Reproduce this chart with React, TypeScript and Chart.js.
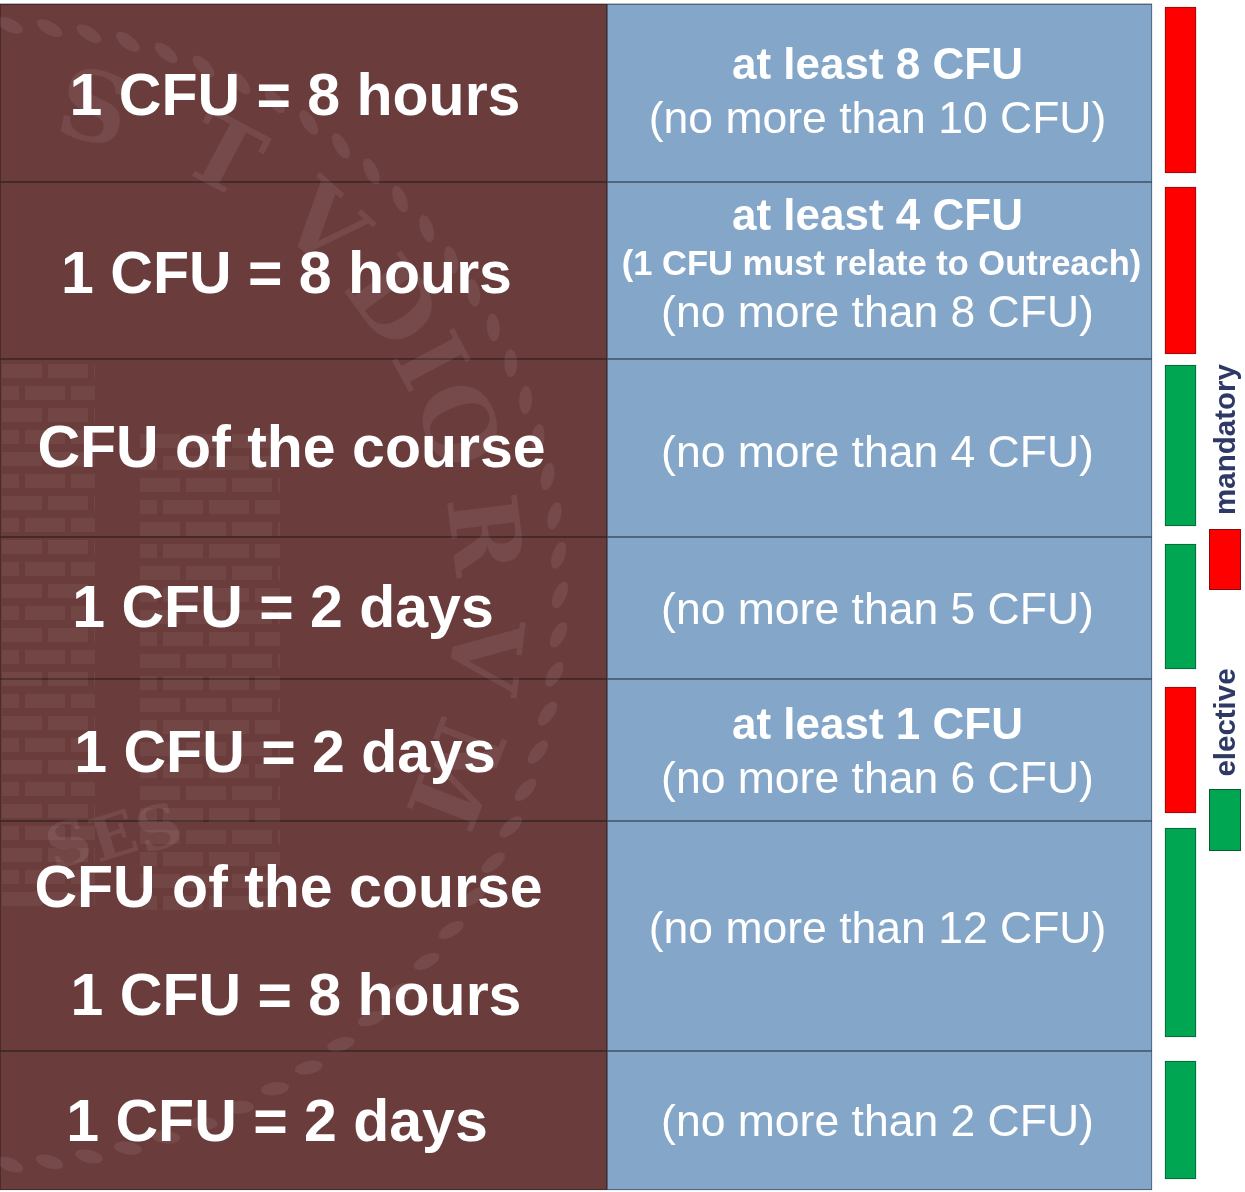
import React, { useEffect, useRef } from "react";
import { Chart, registerables } from "chart.js";

Chart.register(...registerables);

// ---------- data ----------
// vertical extent of each requirement row (value units of the y scale)
const rowEdges = [4, 182, 359, 537, 679, 821, 1051, 1190];
// left column: how credits are counted
const unitLabels: string[][] = [
  ["1 CFU = 8 hours"],
  ["1 CFU = 8 hours"],
  ["CFU of the course"],
  ["1 CFU = 2 days"],
  ["1 CFU = 2 days"],
  ["CFU of the course", "1 CFU = 8 hours"],
  ["1 CFU = 2 days"],
];
// right column: credit rules
const creditRules: string[][] = [
  ["at least 8 CFU", "(no more than 10 CFU)"],
  ["at least 4 CFU", "(1 CFU must relate to Outreach)", "(no more than 8 CFU)"],
  ["(no more than 4 CFU)"],
  ["(no more than 5 CFU)"],
  ["at least 1 CFU", "(no more than 6 CFU)"],
  ["(no more than 12 CFU)"],
  ["(no more than 2 CFU)"],
];
// requirement of each row
const requirement = ["mandatory", "mandatory", "elective", "elective", "mandatory", "elective", "elective"];
// extent of each requirement marker
const markerRanges: [number, number][] = [
  [7, 173],
  [187, 354],
  [365, 526],
  [544, 669],
  [687, 813],
  [828, 1037],
  [1061, 1179],
];
const legendLabels = ["mandatory", "elective"];

// ---------- layout / style (not data) ----------
const X_MAX = 1245;
const Y_MAX = 1192;
const columnEdges = [0, 607, 1152];
const markerEdges = [1165, 1196];
const FONT = '"Liberation Sans", Arial, Helvetica, sans-serif';
const COLORS = {
  unit: "#6b3c3c",
  unitBorder: "#3b2424",
  rule: "#84a6c9",
  ruleBorder: "#3f5266",
  mandatory: "#ff0000",
  mandatoryBorder: "#8a0a0a",
  elective: "#00a651",
  electiveBorder: "#0a5a32",
  legendText: "#2e3a65",
};
const leftNudgeY = [0.5, 1, -2, -2, 0.5, 3.75, -0.5];
const leftNudgeX = [[-8.5], [-17], [-12], [-20.5], [-18.5], [-15, -7.5], [-26.5]];
const rightNudgeY = [-3, -8, 3, 0, 0, -9, 0];
const rightNudgeX = -2;
const legendLayout = [
  { textX: 1235, textY: 439.5, box: [1209, 529, 1241, 590] },
  { textX: 1235, textY: 722.5, box: [1209, 789, 1241, 851] },
];

function ruleStyle(line: string) {
  if (line.startsWith("at least")) return { weight: "bold", size: 44, dx: 0 };
  if (line.includes("must")) return { weight: "bold", size: 34.5, dx: 4 };
  return { weight: "normal", size: 44.5, dx: 0 };
}

function drawWatermark(ctx: CanvasRenderingContext2D, xs: any, ys: any) {
  const left = xs.getPixelForValue(columnEdges[0]);
  const right = xs.getPixelForValue(columnEdges[1]);
  const top = ys.getPixelForValue(rowEdges[0]);
  const bottom = ys.getPixelForValue(rowEdges[rowEdges.length - 1]);
  ctx.save();
  ctx.beginPath();
  ctx.rect(left, top, right - left, bottom - top);
  ctx.clip();
  ctx.fillStyle = "rgba(255,255,255,0.075)";
  const cx = left - 10;
  const cy = top + 591;
  const R = 570;
  // rope ring
  for (let a = -100; a <= 100; a += 4) {
    const t = (a * Math.PI) / 180;
    ctx.save();
    ctx.translate(cx + R * Math.cos(t), cy + R * Math.sin(t));
    ctx.rotate(t + Math.PI / 2 + 0.4);
    ctx.beginPath();
    ctx.ellipse(0, 0, 14, 6.5, 0, 0, Math.PI * 2);
    ctx.fill();
    ctx.restore();
  }
  // letters
  const letters = ["S", "T", "V", "D", "I", "O", "R", "V", "M"];
  const angles = [-78, -62, -48, -36, -28, -20, -7, 7, 21];
  ctx.font = 'bold 96px "DejaVu Serif", "Liberation Serif", serif';
  ctx.textAlign = "center";
  ctx.textBaseline = "middle";
  letters.forEach((ch, i) => {
    const t = (angles[i] * Math.PI) / 180;
    const r = 490;
    ctx.save();
    ctx.translate(cx + r * Math.cos(t), cy + r * Math.sin(t));
    ctx.rotate(t + Math.PI / 2);
    ctx.fillText(ch, 0, 0);
    ctx.restore();
  });
  // bottom letters
  ctx.font = 'bold 60px "DejaVu Serif", serif';
  ["S", "E", "S"].forEach((ch, i) => {
    ctx.save();
    ctx.translate(left + 70 + i * 45, top + 845 - i * 8);
    ctx.rotate(-0.3);
    ctx.fillText(ch, 0, 0);
    ctx.restore();
  });
  // tower bricks
  ctx.fillStyle = "rgba(255,255,255,0.055)";
  const towers = [
    [left + 2, top + 360, left + 95, top + 910],
    [left + 140, top + 430, left + 280, top + 900],
  ];
  towers.forEach(([x0, y0, x1, y1]) => {
    let row = 0;
    for (let yy = y0; yy < y1; yy += 22, row++) {
      const off = row % 2 ? 23 : 0;
      for (let xx = x0 - off; xx < x1; xx += 46) {
        const a = Math.max(xx, x0);
        const b = Math.min(xx + 40, x1);
        if (b > a) ctx.fillRect(a, yy, b - a, 14);
      }
    }
  });
  ctx.restore();
}

const tablePlugin = {
  id: "tableText",
  beforeDatasetsDraw(chart: any) {
    const { ctx, scales } = chart;
    const xs = scales.x;
    const ys = scales.y;
    ctx.save();
    ctx.strokeStyle = "#c4c4c4";
    ctx.lineWidth = 1;
    ctx.beginPath();
    const yTop = ys.getPixelForValue(rowEdges[0]) - 0.5;
    ctx.moveTo(xs.getPixelForValue(columnEdges[0]), yTop);
    ctx.lineTo(xs.getPixelForValue(columnEdges[2]), yTop);
    ctx.stroke();
    ctx.restore();
  },
  afterDatasetsDraw(chart: any) {
    const { ctx, scales } = chart;
    const xs = scales.x;
    const ys = scales.y;
    drawWatermark(ctx, xs, ys);

    ctx.save();
    ctx.fillStyle = "#ffffff";
    ctx.textAlign = "center";
    ctx.textBaseline = "alphabetic";
    const leftCx = xs.getPixelForValue((columnEdges[0] + columnEdges[1]) / 2);
    const rightCx = xs.getPixelForValue((columnEdges[1] + columnEdges[2]) / 2) + rightNudgeX;

    for (let i = 0; i < rowEdges.length - 1; i++) {
      const yc = (ys.getPixelForValue(rowEdges[i]) + ys.getPixelForValue(rowEdges[i + 1])) / 2;
      // left column
      const lines = unitLabels[i];
      const size = 59;
      const gap = 107.5;
      ctx.font = `bold ${size}px ${FONT}`;
      lines.forEach((ln, k) => {
        const capC = yc + leftNudgeY[i] + (k - (lines.length - 1) / 2) * gap;
        const nx = leftNudgeX[i][k] ?? leftNudgeX[i][0];
        ctx.fillText(ln, leftCx + nx, capC + 0.358 * size);
      });
      // right column
      const rl = creditRules[i];
      const styles = rl.map(ruleStyle);
      const offs: number[] = [0];
      for (let k = 1; k < rl.length; k++) {
        offs.push(offs[k - 1] + 1.23 * ((styles[k - 1].size + styles[k].size) / 2));
      }
      const mid = (offs[0] + offs[offs.length - 1]) / 2;
      rl.forEach((ln, k) => {
        const st = styles[k];
        ctx.font = `${st.weight} ${st.size}px ${FONT}`;
        const capC = yc + rightNudgeY[i] + offs[k] - mid;
        ctx.fillText(ln, rightCx + st.dx, capC + 0.358 * st.size);
      });
    }
    ctx.restore();

    // legend
    ctx.save();
    legendLabels.forEach((lab, i) => {
      const L = legendLayout[i];
      const [x0, y0, x1, y1] = L.box;
      ctx.fillStyle = lab === "mandatory" ? COLORS.mandatory : COLORS.elective;
      ctx.fillRect(x0, y0, x1 - x0, y1 - y0);
      ctx.strokeStyle = lab === "mandatory" ? COLORS.mandatoryBorder : COLORS.electiveBorder;
      ctx.lineWidth = 1;
      ctx.strokeRect(x0 + 0.5, y0 + 0.5, x1 - x0 - 1, y1 - y0 - 1);
      ctx.save();
      ctx.translate(L.textX, L.textY);
      ctx.rotate(-Math.PI / 2);
      ctx.fillStyle = COLORS.legendText;
      ctx.font = `bold 29.5px ${FONT}`;
      ctx.textAlign = "center";
      ctx.textBaseline = "alphabetic";
      ctx.fillText(lab, 0, 0);
      ctx.restore();
    });
    ctx.restore();
  },
};

export default function App() {
  const ref = useRef<HTMLCanvasElement | null>(null);
  useEffect(() => {
    document.body.style.margin = "0";
    const canvas = ref.current;
    if (!canvas) return;
    const rows = rowEdges.slice(0, -1).map((t, i) => [t, rowEdges[i + 1]]);
    const chart = new Chart(canvas, {
      type: "bar",
      data: {
        datasets: [
          {
            label: "Counting unit",
            data: rows.map((r) => ({ x: (columnEdges[0] + columnEdges[1]) / 2, y: r })),
            backgroundColor: COLORS.unit,
            borderColor: COLORS.unitBorder,
            borderWidth: 1,
            borderSkipped: false,
            barThickness: columnEdges[1] - columnEdges[0],
            grouped: false,
          } as any,
          {
            label: "Credit rule",
            data: rows.map((r) => ({ x: (columnEdges[1] + columnEdges[2]) / 2, y: r })),
            backgroundColor: COLORS.rule,
            borderColor: COLORS.ruleBorder,
            borderWidth: 1,
            borderSkipped: false,
            barThickness: columnEdges[2] - columnEdges[1],
            grouped: false,
          } as any,
          {
            label: "Requirement",
            data: markerRanges.map((r) => ({ x: (markerEdges[0] + markerEdges[1]) / 2, y: r })),
            backgroundColor: requirement.map((q) => (q === "mandatory" ? COLORS.mandatory : COLORS.elective)),
            borderColor: requirement.map((q) => (q === "mandatory" ? COLORS.mandatoryBorder : COLORS.electiveBorder)),
            borderWidth: 1,
            borderSkipped: false,
            barThickness: markerEdges[1] - markerEdges[0],
            grouped: false,
          } as any,
        ],
      },
      options: {
        animation: false,
        responsive: false,
        maintainAspectRatio: false,
        events: [],
        layout: { padding: 0 },
        plugins: { legend: { display: false }, tooltip: { enabled: false } },
        scales: {
          x: { type: "linear", min: 0, max: X_MAX, display: false, offset: false },
          y: { type: "linear", min: 0, max: Y_MAX, reverse: true, display: false },
        },
      },
      plugins: [tablePlugin],
    });
    return () => chart.destroy();
  }, []);
  return (
    <div style={{ width: X_MAX, height: Y_MAX, background: "#ffffff" }}>
      <canvas ref={ref} width={X_MAX} height={Y_MAX} style={{ display: "block" }} />
    </div>
  );
}
